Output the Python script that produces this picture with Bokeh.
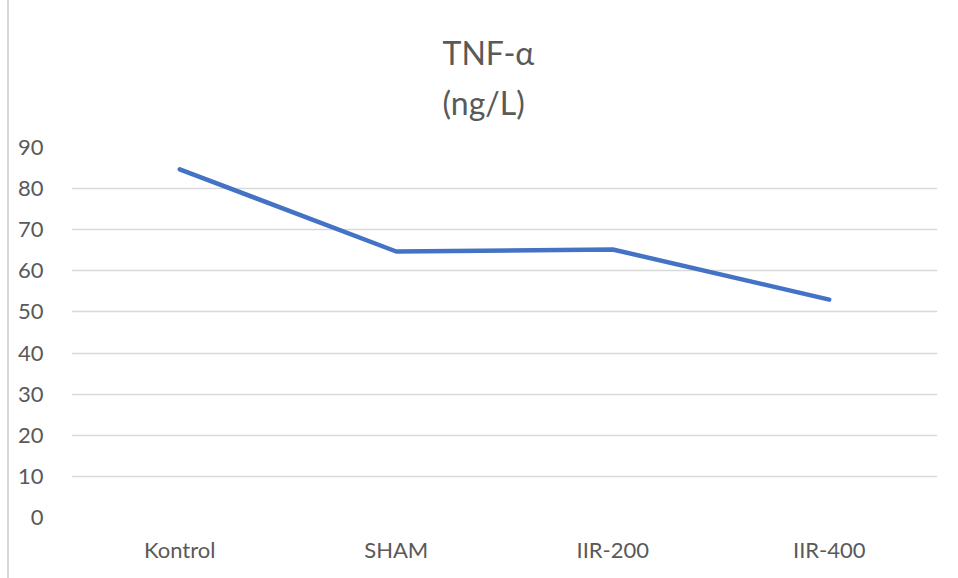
from bokeh.plotting import figure
from bokeh.models import Range1d
from bokeh.embed import file_html
from bokeh.resources import INLINE

categories = ["Kontrol", "SHAM", "IIR-200", "IIR-400"]
tnf_values = [84.7, 64.7, 65.2, 53.0]
y_ticks = [0, 10, 20, 30, 40, 50, 60, 70, 80, 90]
title_text = "TNF-α\n(ng/L)"

FONT = "Lato"
p = figure(width=949, height=578, x_range=categories, y_range=Range1d(0, 90),
           output_backend="svg", toolbar_location=None,
           min_border_left=62, min_border_right=21, min_border_top=147, min_border_bottom=61)
p.styles = {"margin-left": "7px", "border-left": "2px solid #D9D9D9"}
p.outline_line_color = None
p.background_fill_color = "white"
p.border_fill_color = "white"

p.title.text = title_text
p.title.align = "left"
p.title.offset = 371
p.title.standoff = 50
p.title.text_font = FONT
p.title.text_font_style = "normal"
p.title.text_font_size = "32px"
p.title.text_color = "#595959"
p.title.text_line_height = 1.3

p.line(categories, tnf_values, line_color="#4472C4", line_width=4.5, line_cap="round", line_join="round")

p.xgrid.grid_line_color = None
p.ygrid.grid_line_color = "#D9D9D9"
p.ygrid.grid_line_width = 1.3
p.yaxis.ticker = y_ticks
for ax in (p.xaxis, p.yaxis):
    ax.axis_line_color = None
    ax.major_tick_line_color = None
    ax.minor_tick_line_color = None
    ax.major_label_text_font = FONT
    ax.major_label_text_font_size = "22px"
    ax.major_label_text_color = "#595959"
p.yaxis.major_label_standoff = 22
p.xaxis.major_label_standoff = 12

open("out.html", "w").write(file_html(p, INLINE))
